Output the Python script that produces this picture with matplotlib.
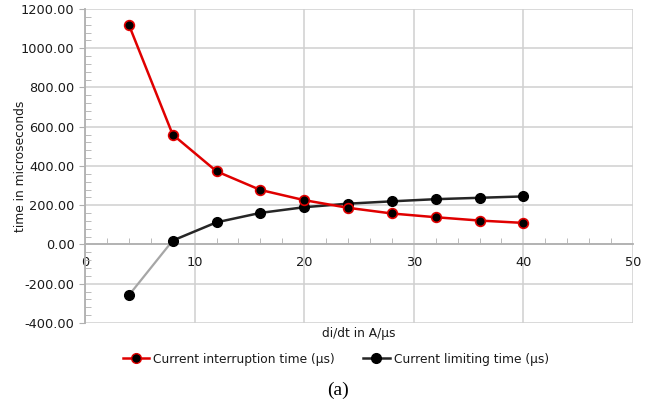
import numpy as np
import matplotlib
matplotlib.use("Agg")
import matplotlib.pyplot as plt
from matplotlib.ticker import MultipleLocator, FormatStrFormatter
from matplotlib.lines import Line2D

plt.rcParams['font.family'] = ['DejaVu Sans']
plt.rcParams['axes.unicode_minus'] = False

didt = [4, 8, 12, 16, 20, 24, 28, 32, 36, 40]
interruption = [1120, 560, 373, 278, 226, 187, 158, 139, 122, 110]
limiting = [-259, 20, 113, 161, 190, 208, 220, 231, 238, 245]

fig = plt.figure(figsize=(6.58, 4.07), dpi=100)
ax = fig.add_axes([85/658, 1 - 323/407, 548/658, 314/407])

grid_c = '#d0d0d0'
axis_c = '#b0b0b0'
txt_c = '#1a1a1a'

ax.set_xlim(0, 50)
ax.set_ylim(-400, 1200)
ax.xaxis.set_major_locator(MultipleLocator(10))
ax.xaxis.set_minor_locator(MultipleLocator(2))
ax.yaxis.set_major_locator(MultipleLocator(200))
ax.yaxis.set_minor_locator(MultipleLocator(40))
ax.yaxis.set_major_formatter(FormatStrFormatter('%.2f'))
ax.grid(True, which='major', color=grid_c, lw=1.1, zorder=0)

for s in ['top', 'right']:
    ax.spines[s].set_visible(False)
ax.spines['bottom'].set_position(('data', 0))
for s in ['bottom', 'left']:
    ax.spines[s].set_color(axis_c)
    ax.spines[s].set_linewidth(1.3)

ax.tick_params(axis='x', which='major', length=0, pad=8, labelsize=9.3, labelcolor=txt_c)
ax.tick_params(axis='x', which='minor', direction='in', length=4, color=axis_c)
ax.tick_params(axis='y', which='major', length=4, direction='out', color=axis_c,
               labelsize=9.3, labelcolor=txt_c)
ax.tick_params(axis='y', which='minor', direction='in', length=4, color=axis_c)

# current limiting time: first segment drawn in light gray
ax.plot(didt[:2], limiting[:2], color='#a6a6a6', lw=1.6, zorder=2)
ax.plot(didt[1:], limiting[1:], color='#262626', lw=1.8, zorder=3)
ax.plot(didt, limiting, ls='none', marker='o', ms=7, mfc='black', mec='black', zorder=4)

ax.plot(didt, interruption, color='#e00000', lw=1.8, marker='o', ms=7,
        mfc='black', mec='#e00000', mew=1.2, zorder=5)

ax.set_ylabel('time in microseconds', fontsize=8.8, color=txt_c)
ax.yaxis.set_label_coords(-0.105, 0.5)
ax.set_xlabel('di/dt in A/µs', fontsize=8.8, color=txt_c)
ax.xaxis.set_label_coords(0.5, -0.012)

h1 = Line2D([], [], color='#e00000', lw=1.8, marker='o', ms=7, mfc='black', mec='#e00000')
h2 = Line2D([], [], color='#262626', lw=1.8, marker='o', ms=7, mfc='black', mec='black')
fig.legend([h1, h2], ['Current interruption time (µs)', 'Current limiting time (µs)'],
           loc='center', bbox_to_anchor=(0.51, 1 - 359/407), ncol=2, frameon=False,
           fontsize=8.8, handlelength=2.2, handletextpad=0.3, columnspacing=2.3,
           labelcolor=txt_c)

fig.text(338/658, 1 - 390/407, '(a)', ha='center', va='center',
         fontsize=14, family='Liberation Serif')

fig.savefig('out.png', dpi=100)
